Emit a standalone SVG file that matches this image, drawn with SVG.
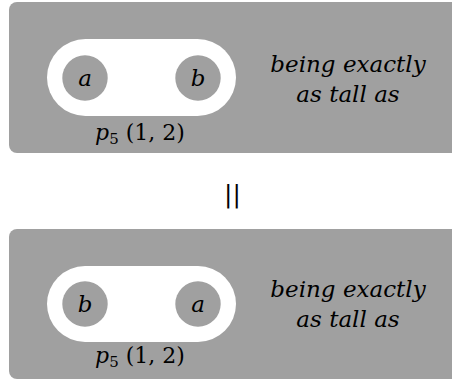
<svg xmlns="http://www.w3.org/2000/svg" width="452" height="381" viewBox="0 0 452 381">
<style>
.panel{fill:#a0a0a0}
.pill{fill:#ffffff}
.dot{fill:#a0a0a0}
text{font-family:'DejaVu Serif','Liberation Serif',serif;fill:#000}
.lab{font-style:italic;font-size:23px;text-anchor:middle}
.cap{font-size:22px;text-anchor:middle}
</style>
<g id="top">
<rect class="panel" x="9" y="2" width="460" height="151" rx="8"/>
<rect class="pill" x="47" y="39" width="189" height="77" rx="38.5"/>
<circle class="dot" cx="85" cy="78" r="22.7"/>
<circle class="dot" cx="198" cy="78" r="22.7"/>
<text class="lab" x="85" y="86">a</text>
<text class="lab" x="198" y="86">b</text>
<text class="lab" x="348" y="72">being exactly</text>
<text class="lab" x="348" y="102">as tall as</text>
<text class="cap" x="140" y="140"><tspan font-style="italic">p</tspan><tspan font-size="15" dy="4">5</tspan><tspan dy="-4"> (1, 2)</tspan></text>
</g>
<g id="eq">
<text x="232.5" y="202" font-size="25" text-anchor="middle">||</text>
</g>
<g id="bottom">
<rect class="panel" x="9" y="229" width="460" height="150" rx="8"/>
<rect class="pill" x="47" y="266" width="189" height="76" rx="38"/>
<circle class="dot" cx="85" cy="304" r="22.7"/>
<circle class="dot" cx="198" cy="304" r="22.7"/>
<text class="lab" x="85" y="312">b</text>
<text class="lab" x="198" y="312">a</text>
<text class="lab" x="348" y="297">being exactly</text>
<text class="lab" x="348" y="327">as tall as</text>
<text class="cap" x="140" y="363"><tspan font-style="italic">p</tspan><tspan font-size="15" dy="4">5</tspan><tspan dy="-4"> (1, 2)</tspan></text>
</g>
<g id="connectors"></g>
</svg>
